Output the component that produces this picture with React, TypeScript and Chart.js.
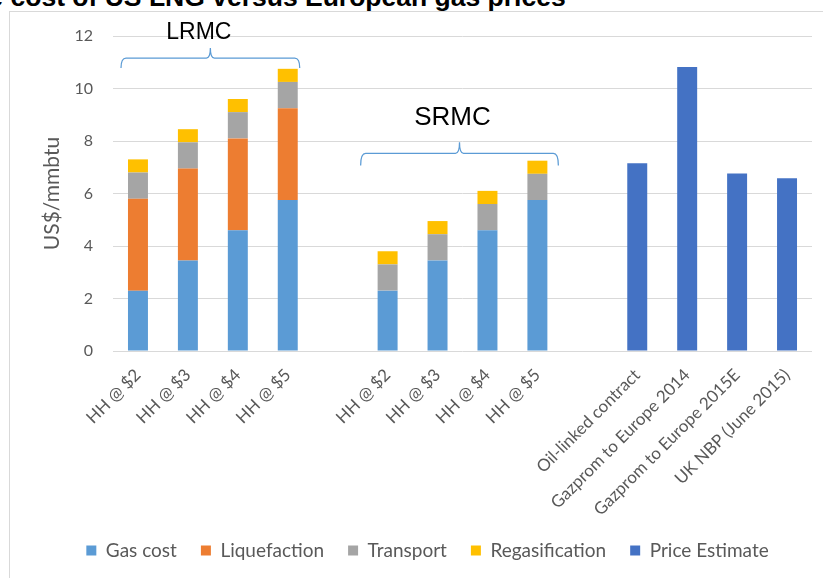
import React, { useEffect, useRef } from 'react';
import { Chart, registerables } from 'chart.js';

Chart.register(...registerables);

const categories = [
  'HH @ $2', 'HH @ $3', 'HH @ $4', 'HH @ $5', '',
  'HH @ $2', 'HH @ $3', 'HH @ $4', 'HH @ $5', '',
  'Oil-linked contract', 'Gazprom to Europe 2014', 'Gazprom to Europe 2015E', 'UK NBP (June 2015)',
];
const gasCost = [2.3, 3.45, 4.6, 5.75, null, 2.3, 3.45, 4.6, 5.75, null, null, null, null, null];
const liquefaction = [3.5, 3.5, 3.5, 3.5, null, null, null, null, null, null, null, null, null, null];
const transport = [1.0, 1.0, 1.0, 1.0, null, 1.0, 1.0, 1.0, 1.0, null, null, null, null, null];
const regasification = [0.5, 0.5, 0.5, 0.5, null, 0.5, 0.5, 0.5, 0.5, null, null, null, null, null];
const priceEstimate = [null, null, null, null, null, null, null, null, null, null, 7.15, 10.82, 6.76, 6.58];
const yMin = 0;
const yMax = 12;
const yStep = 2;

const seriesNames = ['Gas cost', 'Liquefaction', 'Transport', 'Regasification', 'Price Estimate'];
const seriesColors = ['#5B9BD5', '#ED7D31', '#A5A5A5', '#FFC000', '#4472C4'];

// Annotation groups (brace + label), placed in data coordinates
const braceLabels = ['LRMC', 'SRMC'];
const braceFrom = [-0.34, 4.46];
const braceTo = [3.24, 8.42];
const braceEnd = [10.78, 7.07];
const braceLine = [11.16, 7.53];
const braceTip = [11.54, 7.95];
const labelX = [1.22, 6.3];
const labelY = [12.11, 8.9];
const labelSize = [23, 26];

const FONT = 'Lato, "Noto Sans", sans-serif';
const GREY_TEXT = '#595959';

const bracePlugin = {
  id: 'braces',
  afterDraw(chart: any) {
    const { ctx, scales } = chart;
    const x = scales.x;
    const y = scales.y;
    ctx.save();
    for (let i = 0; i < braceLabels.length; i++) {
      const x0 = x.getPixelForValue(braceFrom[i]);
      const x1 = x.getPixelForValue(braceTo[i]);
      const xm = (x0 + x1) / 2;
      const yE = y.getPixelForValue(braceEnd[i]);
      const yL = y.getPixelForValue(braceLine[i]);
      const yT = y.getPixelForValue(braceTip[i]);
      const r = 5;
      const rt = 4;
      ctx.beginPath();
      ctx.moveTo(x0, yE);
      ctx.quadraticCurveTo(x0, yL, x0 + r, yL);
      ctx.lineTo(xm - rt, yL);
      ctx.quadraticCurveTo(xm, yL, xm, yT);
      ctx.quadraticCurveTo(xm, yL, xm + rt, yL);
      ctx.lineTo(x1 - r, yL);
      ctx.quadraticCurveTo(x1, yL, x1, yE);
      ctx.strokeStyle = '#5B9BD5';
      ctx.lineWidth = 1.25;
      ctx.stroke();

      ctx.fillStyle = '#000000';
      ctx.font = `${labelSize[i]}px "Liberation Sans", Arial, sans-serif`;
      ctx.textAlign = 'center';
      ctx.textBaseline = 'middle';
      ctx.fillText(braceLabels[i], x.getPixelForValue(labelX[i]), y.getPixelForValue(labelY[i]));
    }
    ctx.restore();
  },
};

export default function App() {
  const canvasRef = useRef<HTMLCanvasElement | null>(null);

  useEffect(() => {
    const canvas = canvasRef.current;
    if (!canvas) return;
    const seriesData = [gasCost, liquefaction, transport, regasification, priceEstimate];
    const chart = new Chart(canvas, {
      type: 'bar',
      data: {
        labels: categories,
        datasets: seriesNames.map((name, i) => ({
          label: name,
          data: seriesData[i],
          backgroundColor: seriesColors[i],
          borderWidth: 0,
          barPercentage: 0.5,
          categoryPercentage: 0.8,
        })),
      },
      options: {
        responsive: false,
        animation: false,
        devicePixelRatio: 1,
        layout: { padding: { top: 24, right: 63, left: 33, bottom: 0 } },
        plugins: {
          tooltip: { enabled: false },
          title: { display: false },
          legend: {
            position: 'bottom',
            labels: {
              boxWidth: 10,
              boxHeight: 10,
              padding: 24,
              color: GREY_TEXT,
              font: { family: FONT, size: 19 },
            },
          },
        },
        scales: {
          x: {
            stacked: true,
            grid: { display: false, drawTicks: false },
            border: { display: false },
            ticks: {
              autoSkip: false,
              maxRotation: 45,
              minRotation: 45,
              padding: 14,
              color: GREY_TEXT,
              font: { family: FONT, size: 17 },
            },
            afterFit(scale: any) {
              scale.height = 166;
            },
          },
          y: {
            stacked: true,
            min: yMin,
            max: yMax,
            ticks: {
              stepSize: yStep,
              padding: 20,
              color: GREY_TEXT,
              font: { family: FONT, size: 16 },
            },
            grid: { color: '#D9D9D9', lineWidth: 1, drawTicks: false },
            border: { display: false },
            title: {
              display: true,
              text: 'US$/mmbtu',
              color: GREY_TEXT,
              font: { family: FONT, size: 21, lineHeight: 0.9 },
              padding: { top: 0, bottom: 0 },
            },
            afterFit(scale: any) {
              scale.width = 70;
              scale.paddingTop = 0;
              scale.paddingBottom = 0;
            },
          },
        },
      },
      plugins: [bracePlugin],
    });
    return () => chart.destroy();
  }, []);

  return (
    <div style={{ position: 'fixed', left: 0, top: 0, width: 823, height: 578, overflow: 'hidden', background: '#ffffff' }}>
      <div
        style={{
          position: 'absolute',
          left: 9,
          top: 11,
          width: 900,
          height: 620,
          borderTop: '1px solid #D9D9D9',
          borderLeft: '1px solid #D9D9D9',
        }}
      >
        <canvas ref={canvasRef} width={865} height={558} style={{ position: 'absolute', left: 0, top: 0, width: 865, height: 558 }} />
      </div>
      <div
        style={{
          position: 'absolute',
          left: -44,
          top: -16,
          whiteSpace: 'nowrap',
          font: 'bold 26.5px "Liberation Sans", Arial, sans-serif',
          lineHeight: '26.5px',
          color: '#000000',
        }}
      >
        The cost of US LNG versus European gas prices
      </div>
    </div>
  );
}
